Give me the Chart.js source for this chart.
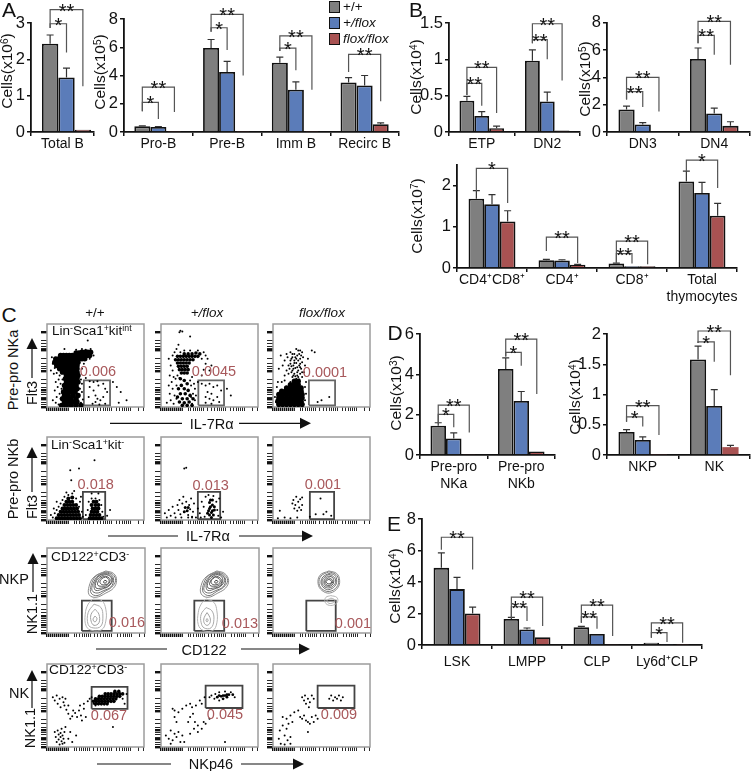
<!DOCTYPE html>
<html>
<head>
<meta charset="utf-8">
<script src="https://cdn.jsdelivr.net/npm/chart.js@4/dist/chart.umd.min.js"></script>
<style>
  html, body { margin: 0; padding: 0; background: #fff; }
  #page { position: relative; width: 751px; height: 771px; overflow: hidden; font-family: "Liberation Sans", Arial, sans-serif; color: #111; }
  #page canvas { position: absolute; }
  #arrows { position: absolute; left: 0; top: 0; }
  .t { position: absolute; white-space: nowrap; line-height: 1; transform: translate(-50%, -50%); }
  .l { transform: translate(0, -50%); }
  .r { transform: translate(-50%, -50%) rotate(-90deg); }
  .t sup { font-size: 0.65em; line-height: 0; vertical-align: 0.45em; }
  .val { color: #a8585b; font-size: 14.5px; }
  .sw { position: absolute; width: 9px; height: 10px; border: 1.2px solid #111; }
</style>
</head>
<body>
<div id="page"></div>
<script>
const seriesNames = ['+/+', '+/flox', 'flox/flox'];
const seriesColors = ['#7f7f7f', '#5b7cb9', '#a85252'];

// A
const totalBCats = ['Total B'];
const totalBWt = [2.43], totalBHet = [1.5], totalBKo = [0.06];
const totalBWtHi = [2.67], totalBHetHi = [1.76], totalBKoHi = [null];

const bSubsetCats = ['Pro-B', 'Pre-B', 'Imm B', 'Recirc B'];
const bSubsetWt = [0.4, 5.95, 4.9, 3.5], bSubsetHet = [0.35, 4.25, 3.0, 3.3], bSubsetKo = [0.02, 0.02, 0.02, 0.55];
const bSubsetWtHi = [0.44, 6.55, 5.3, 3.85], bSubsetHetHi = [0.39, 5.0, 3.55, 4.0], bSubsetKoHi = [null, null, null, 0.65];

// B
const etpCats = ['ETP', 'DN2'];
const etpWt = [0.43, 0.98], etpHet = [0.22, 0.42], etpKo = [0.05, 0.02];
const etpWtHi = [0.49, 1.13], etpHetHi = [0.28, 0.55], etpKoHi = [0.08, null];

const dnCats = ['DN3', 'DN4'];
const dnWt = [1.65, 5.35], dnHet = [0.55, 1.35], dnKo = [0.05, 0.45];
const dnWtHi = [1.9, 6.15], dnHetHi = [0.68, 1.75], dnKoHi = [null, 0.75];

const thyCats = ['CD4⁺CD8⁺', 'CD4⁺', 'CD8⁺', ['Total', 'thymocytes']];
const thyWt = [1.68, 0.19, 0.11, 2.1], thyHet = [1.55, 0.18, 0.04, 1.82], thyKo = [1.13, 0.08, 0.04, 1.27];
const thyWtHi = [1.88, 0.21, 0.12, 2.35], thyHetHi = [1.78, 0.2, null, 2.08], thyKoHi = [1.39, 0.09, null, 1.57];

// D
const preProCats = [['Pre-pro', 'NKa'], ['Pre-pro', 'NKb']];
const preProWt = [1.45, 4.27], preProHet = [0.82, 2.68], preProKo = [0.05, 0.17];
const preProWtHi = [1.6, 4.82], preProHetHi = [1.1, 3.15], preProKoHi = [null, null];

const nkCats = ['NKP', 'NK'];
const nkWt = [0.38, 1.58], nkHet = [0.25, 0.81], nkKo = [0.01, 0.13];
const nkWtHi = [0.42, 1.8], nkHetHi = [0.3, 1.08], nkKoHi = [null, 0.16];

// E
const lskCats = ['LSK', 'LMPP', 'CLP', 'Ly6d⁺CLP'];
const lskWt = [4.9, 1.65, 1.12, 0.15], lskHet = [3.55, 0.98, 0.7, 0.07], lskKo = [2.0, 0.5, 0.03, 0.01];
const lskWtHi = [5.85, 1.75, 1.18, null], lskHetHi = [4.3, 1.08, null, null], lskKoHi = [2.4, null, null, null];

// significance brackets: category, from bar, to bar, left foot, top, right foot, stars
const totalBBrackets = [[0, 0, 2, 2.86, 3.37, 1.26, '**'], [0, 0, 1, 2.86, 2.98, 2.19, '*']];
const bSubsetBrackets = [
  [0, 0, 2, 1.47, 3.17, 1.42, '**'], [0, 0, 1, 1.47, 2.1, 0.92, '*'],
  [1, 0, 2, 7.1, 8.33, 4.0, '**'], [1, 0, 1, 7.1, 7.38, 5.8, '*'],
  [2, 0, 2, 5.73, 6.8, 3.0, '**'], [2, 0, 1, 5.73, 5.94, 4.38, '*'],
  [3, 0, 2, 4.24, 5.49, 2.18, '**']
];
const etpBrackets = [
  [0, 0, 2, 0.51, 0.89, 0.26, '**'], [0, 0, 1, 0.51, 0.67, 0.36, '**'],
  [1, 0, 2, 1.22, 1.49, 0.71, '**'], [1, 0, 1, 1.22, 1.27, 1.0, '**']
];
const dnBrackets = [
  [0, 0, 2, 2.37, 4.0, 1.5, '**'], [0, 0, 1, 2.37, 2.95, 1.83, '**'],
  [1, 0, 2, 6.5, 8.1, 4.93, '**'], [1, 0, 1, 6.5, 7.07, 5.66, '**']
];
const thyBrackets = [
  [0, 0, 2, 1.86, 2.42, 1.58, '*'], [1, 0, 2, 0.41, 0.75, 0.12, '**'],
  [2, 0, 2, 0.13, 0.65, 0.09, '**'], [2, 0, 1, 0.13, 0.35, 0.11, '**'],
  [3, 0, 2, 2.34, 2.62, 1.94, '*']
];
const preProBrackets = [
  [0, 0, 2, 1.58, 2.47, 1.12, '**'], [0, 0, 1, 1.58, 2.01, 1.38, '*'],
  [1, 0, 2, 4.88, 5.75, 3.03, '**'], [1, 0, 1, 4.88, 5.09, 4.42, '*']
];
const nkBrackets = [
  [0, 0, 2, 0.55, 0.815, 0.33, '**'], [0, 0, 1, 0.55, 0.63, 0.47, '*'],
  [1, 0, 2, 1.85, 2.05, 1.32, '**'], [1, 0, 1, 1.85, 1.87, 1.54, '*']
];
const lskBrackets = [
  [0, 0, 2, 6.05, 6.84, 4.79, '**'],
  [1, 0, 2, 1.73, 3.04, 1.2, '**'], [1, 0, 1, 1.73, 2.43, 1.52, '**'],
  [2, 0, 2, 1.41, 2.53, 0.57, '**'], [2, 0, 1, 1.41, 1.79, 1.03, '**'],
  [3, 0, 2, 0.46, 1.41, 0.15, '**'], [3, 0, 1, 0.46, 0.78, 0.19, '*']
];

// flow plots, flat x,y pairs on a 0-100 plot scale
const flowTicksX = [0,2,4,6,8,10,12,14,16,18,20,22,28,30,33,36,38,40,42,44,48,52,55,58,60,62,64,66,72,75,78,80,82,84,86,94,99];
const flowTicksY = [0,3,6,9,12,15,17,20,24,28,33,43,46,49,53,58,68,71,73,76,80,90];
const flowMajorY = [0,9,20,43,68,90];

const r1c1Dense = [
  30,65,33,65,36,66,39,66,42,66,45,66,
  14,62,17,62,20,62,23,62,26,62,29,62,32,62,35,62,38,62,41,62,44,62,
  9,58,12,58,15,58,18,58,21,58,24,58,27,58,30,58,33,58,36,58,39,58,
  8,54,11,54,14,54,17,54,20,54,23,54,26,54,29,54,32,54,
  10,50,13,50,16,50,19,50,22,50,25,50,28,50,31,50,
  13,46,16,46,19,46,22,46,25,46,28,46,31,46,
  16,42,19,42,22,42,25,42,28,42,31,42,
  20,38,23,38,26,38,29,38,32,38,
  19,34,22,34,25,34,28,34,31,34,
  20,30,24,30,28,30,32,30,
  18,26,22,26,26,26,30,26,
  19,22,23,22,27,22,31,22,
  17,18,21,18,25,18,29,18,
  18,14,22,14,27,14,32,14,
  16,10,21,10,25,10,30,10,
  18,6,23,6,27,6,31,6,
  15,2,20,2,25,2,30,2,35,2
];
const r1c1Sparse = [5,60,6,52,8,47,4,44,7,40,10,41,13,38,12,33,9,30,14,28,11,24,15,22,8,20,13,16,10,12,14,10,6,8,9,5,12,3,16,33,15,42,33,38,35,33,36,28,34,22,36,18,33,13,37,9,35,5,34,2,45,70,40,69,36,70,30,69,48,62,44,58,38,52,36,46,40,35,44,31,48,30,52,31,44,24,48,20,53,26,58,28,60,22,50,14,52,10,55,8,50,6,47,4,54,3,58,12,62,18,43,12,68,30,72,24,76,18,82,8,74,5,42,80,18,70,60,4];
const r1c2Dense = [
  24,64,28,64,32,64,36,65,40,64,
  17,61,20,61,23,61,26,61,29,61,32,61,35,61,38,61,
  15,57,18,57,21,57,24,57,27,57,30,57,33,57,
  17,53,20,53,23,53,26,53,29,53,
  18,49,21,49,24,49,27,49,
  19,45,22,45,25,45,28,45,
  21,41,24,41,27,41,
  20,34,24,32,27,28,21,26,18,22,24,22,28,20,20,16,25,16,30,14,17,12,22,10,27,10,19,6,24,5,29,6,33,10,22,2,27,2,32,2
];
const r1c2Sparse = [8,58,10,50,12,62,14,66,12,44,9,38,13,36,11,30,15,34,8,26,12,22,16,26,9,16,14,14,16,10,10,8,13,4,6,5,17,38,19,35,32,36,30,32,34,28,31,26,35,22,33,16,31,12,35,8,32,4,36,14,38,30,42,38,44,45,46,52,42,58,46,62,44,66,38,68,24,68,30,68,20,66,16,70,48,58,52,50,50,44,42,28,46,26,50,28,54,24,58,26,62,20,48,18,52,16,46,12,50,10,54,8,58,12,52,4,46,5,60,6,68,22,72,14,19,90,20,92,22,91,30,85,18,75];
const r1c3Dense = [
  6,3,10,3,14,3,18,3,22,3,26,3,30,3,
  5,7,9,7,13,7,17,7,21,7,25,7,29,7,
  6,11,10,11,14,11,18,11,22,11,26,11,30,11,
  6,15,10,15,14,15,18,15,22,15,26,15,30,15,
  9,19,13,19,17,19,21,19,25,19,29,19,
  14,23,18,23,22,23,26,23,29,23,
  18,27,22,27,26,27,
  22,31,26,31
];
const r1c3Sparse = [20,60,22,56,25,62,28,58,18,52,21,50,24,53,27,50,30,54,17,46,20,44,23,47,26,44,29,46,22,40,25,38,28,40,20,36,24,34,27,33,30,36,22,64,26,68,30,66,24,70,18,66,15,60,12,56,8,62,10,50,6,46,14,44,16,40,12,38,18,30,31,60,33,50,32,42,34,30,33,24,34,16,33,8,4,24,2,12,3,6,5,30,9,30,12,32,40,68,43,66,36,58,50,8,58,12,46,6,19,58,23,60,26,56,29,62,21,46,25,42,28,48,19,42,23,37,20,64,24,58,27,64,19,49,22,53,25,48,28,52,30,42,21,38,26,36,18,56,16,50,14,64,28,68];

const r2c1Dense = [
  10,2,13,2,16,2,19,2,22,2,25,2,28,2,31,2,34,2,
  12,6,15,6,18,6,21,6,24,6,27,6,30,6,33,6,
  14,10,17,10,20,10,23,10,26,10,29,10,32,10,
  16,14,19,14,22,14,25,14,28,14,31,14,
  18,18,21,18,24,18,27,18,30,18,
  20,22,23,22,26,22,
  22,26,26,27,
  44,2,47,2,50,2,53,2,56,2,
  45,6,48,6,51,6,54,6,
  46,10,49,10,52,10,
  47,14,50,14,53,14,
  46,18,50,18,53,18,
  48,22,51,22
];
const r2c1Sparse = [6,3,8,8,10,12,12,16,14,20,16,24,18,28,22,30,26,32,30,26,34,22,33,16,36,10,37,4,35,28,28,35,20,33,10,22,7,14,4,6,40,6,42,12,43,22,46,26,50,26,54,24,56,18,57,10,58,4,46,32,53,32,33,62,24,60,49,72,25,48,62,5,65,12];
const r2c2Dense = [50,6,54,6,49,11,53,11,51,16,55,16,50,21,53,24,52,3,48,8,52,9,55,12,50,14,53,18,51,24,25,15,27,11,24,10,28,15];
const r2c2Sparse = [4,8,6,3,8,12,10,5,12,16,14,8,15,3,17,18,18,12,19,24,20,7,21,3,22,20,23,28,24,10,26,22,28,6,29,18,30,13,31,26,32,4,33,10,34,20,36,3,38,14,40,8,42,22,44,16,45,4,46,28,49,30,54,29,57,22,58,12,59,5,60,26,62,3,64,10,24,62,26,63,32,3,28,3,41,3];
const r2c3Dense = [];
const r2c3Sparse = [7,11,20,20,21,24,22,14,23,18,24,28,25,11,26,22,27,15,28,25,29,12,30,18,30,27,44,7,49,26,52,7,55,10,60,5,5,2,12,3,18,2,25,3,38,4];

const r4c1Dense = [
  50,52,53,52,56,52,59,52,62,52,
  48,55,51,55,54,55,57,55,60,55,63,55,66,55,69,55,
  50,58,53,58,56,58,59,58,62,58,65,58,68,58,71,58,
  54,61,57,61,60,61,63,61,66,61,69,61,72,61,75,61,
  60,64,63,64,66,64,69,64,72,64,75,64,78,64,
  70,67,74,67
];
const r4c1Sparse = [6,60,8,56,10,62,11,52,13,58,14,48,16,60,17,54,18,50,19,58,20,45,22,50,22,40,24,34,26,37,27,44,29,41,31,36,33,44,35,38,36,32,38,46,40,36,34,50,38,52,42,55,44,58,46,60,48,52,50,50,78,58,82,64,80,52,8,18,9,12,10,6,11,20,12,15,12,9,13,3,14,17,14,12,15,7,15,22,16,14,16,4,17,10,18,18,18,5,19,24,22,10,24,18,26,6,68,24,30,14];
const r4c2Dense = [58,60,62,61,66,62,70,63,74,63,64,58,68,60,60,62,64,62,68,63];
const r4c2Sparse = [52,62,55,58,56,64,60,66,60,56,66,67,72,66,76,60,50,60,45,60,40,56,42,52,36,50,30,52,32,48,26,50,22,46,14,44,12,46,18,42,33,40,30,36,28,30,35,30,38,26,34,22,42,22,44,30,46,28,50,34,16,30,14,36,5,14,8,10,10,20,12,8,14,16,16,12,18,18,20,6,22,14,24,6,10,4,66,6,30,16,38,18];
const r4c3Dense = [];
const r4c3Sparse = [58,58,60,62,62,56,64,60,66,58,68,62,70,56,72,60,30,60,32,56,33,62,34,52,36,58,37,48,38,54,40,62,42,58,10,36,14,34,18,38,22,42,26,44,28,36,30,34,32,38,34,32,36,30,38,28,40,36,44,38,46,34,42,30,6,10,8,4,7,20,10,26,12,14,14,22,15,8,16,28,18,12,18,4,20,30,12,3,36,18];

// contour rings of the NKP row
const r3c1Upper = [
  [60,73,68,70,71,62,68,53,60,47,50,42,43,45,43,55,48,66],
  [60,72,67,69,70,62,66,54,59,49,51,44,45,47,45,56,50,67],
  [60,71,66,68,68,62,65,54,58,50,51,47,46,50,47,58,52,67],
  [60,70,65,67,67,62,63,55,57,52,50,50,48,54,49,60,53,67],
  [60,69,65,66,66,61,62,55,56,53,50,53,50,60,54,66],
  [60,67,64,64,64,60,61,56,57,55,52,56,52,60,55,65],
  [60,66,63,63,63,59,60,57,56,57,54,60,56,64],
  [59,62,61,61,60,59,58,59,58,61]
];
const r3c1Lower = [
  [47,40,56,38,60,28,60,14,56,4,46,3,40,8,39,22,42,34],
  [48,34,55,30,57,20,55,8,47,6,42,10,42,24],
  [49,28,53,22,53,12,48,9,45,14,45,22],
  [49,20,51,17,49,13,47,16]
];
const r3c2Upper = [
  [57,73,65,70,69,62,66,53,58,47,48,42,41,46,41,56,46,66],
  [57,72,64,69,68,62,64,54,57,49,49,44,43,48,43,56,48,67],
  [57,71,63,68,66,62,63,54,56,50,49,47,44,50,45,58,50,67],
  [57,70,63,67,65,62,61,55,55,52,48,50,46,54,47,60,51,67],
  [57,69,62,66,63,61,60,55,54,53,48,53,48,60,52,66],
  [57,67,61,64,62,60,59,56,55,55,50,56,50,60,53,65],
  [56,66,60,63,60,59,57,57,53,57,51,60,53,64],
  [56,62,58,61,57,59,55,59,55,61]
];
const r3c2Lower = [
  [46,40,54,36,57,26,57,12,53,3,43,3,38,10,38,24,41,34],
  [46,30,52,26,54,16,51,6,44,6,41,12,41,22],
  [47,24,50,18,50,12,47,9,44,12,44,18],
  [47,17,48,15,47,13,46,15]
];
const r3c3Upper = [
  [57,73,65,70,68,62,66,53,58,47,50,50,46,58,48,68],
  [57,72,64,69,67,62,65,54,58,49,51,51,47,58,49,67],
  [57,70,63,68,65,61,63,55,57,51,52,53,49,59,51,66],
  [57,69,62,66,64,61,62,56,57,53,52,55,50,60,52,65],
  [57,67,61,65,62,60,60,56,57,55,53,56,52,60,53,64],
  [57,65,60,63,61,60,59,57,57,56,54,57,53,60,54,63],
  [57,63,59,62,60,60,58,58,56,58,54,60,55,62]
];
const r3c3Lower = [
  [59,44,65,42,66,37,62,33,56,33,53,37,54,42],
  [59,41,62,40,63,37,60,35,57,35,55,38]
];

// gates: x0, x1, y0, y1 on the same scale
const gateR1 = [[38,65,2,32], [38.5,65,2,32], [37,64,2,32]];
const gateR2 = [[37,60,1,34], [38,61,1,34], [38,63,1,34]];
const gateR3 = [[35.6,66,2.4,38], [34,64.5,2.4,38], [34,64,2.4,38]];
const gateR4 = [[46,83,46,72.5], [46,84,47,74], [46,84,47,74]];

const page = document.getElementById('page');

function pairs(flat) {
  const out = [];
  for (let i = 0; i < flat.length; i += 2) out.push({ x: flat[i], y: flat[i + 1] });
  return out;
}

// whiskers on top of the bars and the bracket lines above them
function barMarks(hi, brackets, shift) {
  return {
    id: 'barMarks',
    afterDatasetsUpdate(chart) {
      if (!shift) return;
      hi.forEach((list, s) => chart.getDatasetMeta(s).data.forEach(b => { b.x += shift; }));
    },
    afterDatasetsDraw(chart) {
      const ctx = chart.ctx, y = chart.scales.y;
      ctx.save();
      ctx.strokeStyle = '#333';
      ctx.lineWidth = 1.2;
      hi.forEach((list, s) => {
        const bars = chart.getDatasetMeta(s).data;
        list.forEach((v, i) => {
          if (v === null) return;
          const px = bars[i].x, top = y.getPixelForValue(v);
          ctx.beginPath();
          ctx.moveTo(px, bars[i].y);
          ctx.lineTo(px, top);
          ctx.moveTo(px - 3.5, top);
          ctx.lineTo(px + 3.5, top);
          ctx.stroke();
        });
      });
      ctx.strokeStyle = '#555';
      ctx.lineWidth = 1.2;
      ctx.fillStyle = '#111';
      ctx.font = '20px "Liberation Sans"';
      ctx.textAlign = 'center';
      ctx.textBaseline = 'alphabetic';
      brackets.forEach(b => {
        const x0 = chart.getDatasetMeta(b[1]).data[b[0]].x;
        const x1 = chart.getDatasetMeta(b[2]).data[b[0]].x;
        const top = y.getPixelForValue(b[4]);
        ctx.beginPath();
        ctx.moveTo(x0, y.getPixelForValue(b[3]));
        ctx.lineTo(x0, top);
        ctx.lineTo(x1, top);
        ctx.lineTo(x1, y.getPixelForValue(b[5]));
        ctx.stroke();
        ctx.fillText(b[6], (x0 + x1) / 2, top + 8);
      });
      ctx.restore();
    }
  };
}

function barChart(box, cats, wt, het, ko, hi, brackets, yMax, step, share) {
  const pad = 40, topPad = Math.min(box.top, 24), below = 44;
  const canvas = document.createElement('canvas');
  const w = box.right - box.left + pad + 3, h = box.base - box.top + topPad + below;
  canvas.width = w;
  canvas.height = h;
  canvas.style.left = (box.left - pad) + 'px';
  canvas.style.top = (box.top - topPad) + 'px';
  page.appendChild(canvas);
  new Chart(canvas, {
    type: 'bar',
    data: {
      labels: cats,
      datasets: [wt, het, ko].map((d, i) => ({
        label: seriesNames[i],
        data: d,
        backgroundColor: seriesColors[i],
        borderColor: '#111',
        borderWidth: (i === 2 && box.redNoEdge) ? 0 : 1.8,
        categoryPercentage: share,
        barPercentage: 1
      }))
    },
    options: {
      responsive: false,
      animation: false,
      devicePixelRatio: 1,
      layout: { padding: { top: topPad, right: 3, left: 0, bottom: 0 } },
      plugins: { legend: { display: false }, tooltip: { enabled: false } },
      scales: {
        x: {
          afterFit: s => { s.height = below; },
          border: { color: '#111', width: 1.8 },
          grid: { drawOnChartArea: false, color: '#111', lineWidth: 1.5, tickLength: 4 },
          ticks: { color: '#111', font: { size: 14, family: 'Liberation Sans' }, padding: box.labelGap || 0, autoSkip: false, maxRotation: 0 }
        },
        y: {
          min: 0,
          max: yMax,
          afterFit: s => { s.width = pad; },
          border: { color: '#111', width: 1.8 },
          grid: { drawOnChartArea: false, color: '#111', lineWidth: 1.5, tickLength: 4 },
          ticks: { color: '#111', stepSize: step, font: { size: 16.5, family: 'Liberation Sans' }, padding: 2, callback: v => String(v) }
        }
      }
    },
    plugins: [barMarks(hi, brackets, box.shift)]
  });
}

barChart({ left: 30.7, right: 94, top: 23, base: 132, shift: 4 }, totalBCats, totalBWt, totalBHet, totalBKo, [totalBWtHi, totalBHetHi, totalBKoHi], totalBBrackets, 3, 1, 0.78);
barChart({ left: 124, right: 399, top: 19, base: 132 }, bSubsetCats, bSubsetWt, bSubsetHet, bSubsetKo, [bSubsetWtHi, bSubsetHetHi, bSubsetKoHi], bSubsetBrackets, 8, 2, 0.7);
barChart({ left: 449.3, right: 581, top: 23, base: 132 }, etpCats, etpWt, etpHet, etpKo, [etpWtHi, etpHetHi, etpKoHi], etpBrackets, 1.5, 0.5, 0.68);
barChart({ left: 607, right: 750, top: 22.7, base: 132 }, dnCats, dnWt, dnHet, dnKo, [dnWtHi, dnHetHi, dnKoHi], dnBrackets, 8, 2, 0.68);
barChart({ left: 457, right: 737, top: 165, base: 268.7 }, thyCats, thyWt, thyHet, thyKo, [thyWtHi, thyHetHi, thyKoHi], thyBrackets, 2.5, 0.5, 0.67);
barChart({ left: 420, right: 555, top: 334, base: 455 }, preProCats, preProWt, preProHet, preProKo, [preProWtHi, preProHetHi, preProKoHi], preProBrackets, 6, 1, 0.69);
barChart({ left: 606.7, right: 750, top: 334, base: 455, redNoEdge: true }, nkCats, nkWt, nkHet, nkKo, [nkWtHi, nkHetHi, nkKoHi], nkBrackets, 2, 0.5, 0.68);
barChart({ left: 421.7, right: 702, top: 519.3, base: 645.7, labelGap: 5 }, lskCats, lskWt, lskHet, lskKo, [lskWtHi, lskHetHi, lskKoHi], lskBrackets, 8, 2, 0.67);

const frame = {
  id: 'frame',
  beforeDatasetsDraw(chart) {
    const a = chart.chartArea, ctx = chart.ctx;
    ctx.save();
    ctx.strokeStyle = '#9c9c9c';
    ctx.lineWidth = 1.5;
    ctx.strokeRect(a.left, a.top, a.right - a.left, a.bottom - a.top);
    ctx.restore();
  }
};

function flowChart(left, top, dense, denseR, sparse, gate, gateColor, rings) {
  const mx = 8, my = 2, below = 8, w = 98, h = 85;
  const canvas = document.createElement('canvas');
  canvas.width = w + mx + 3;
  canvas.height = h + my + below;
  canvas.style.left = (left - mx) + 'px';
  canvas.style.top = (top - my) + 'px';
  page.appendChild(canvas);
  const datasets = [];
  (rings || []).forEach(r => {
    r.sets.forEach((ring, i) => datasets.push({
      type: 'scatter', data: pairs(ring.concat(ring.slice(0, 2))), showLine: true, tension: 0.4,
      borderColor: r.colors[i], borderWidth: 1, pointRadius: 0, fill: false
    }));
  });
  datasets.push({ data: pairs(dense), pointRadius: denseR, backgroundColor: '#000', borderWidth: 0 });
  datasets.push({ data: pairs(sparse), pointRadius: 1, backgroundColor: '#000', borderWidth: 0 });
  datasets.push({
    data: [{ x: gate[0], y: gate[2] }, { x: gate[1], y: gate[2] }, { x: gate[1], y: gate[3] }, { x: gate[0], y: gate[3] }, { x: gate[0], y: gate[2] }],
    showLine: true, borderColor: gateColor, borderWidth: 1.8, pointRadius: 0
  });
  new Chart(canvas, {
    type: 'scatter',
    data: { datasets },
    options: {
      responsive: false,
      animation: false,
      devicePixelRatio: 1,
      layout: { padding: { top: my, right: 3, left: 0, bottom: 0 } },
      plugins: { legend: { display: false }, tooltip: { enabled: false } },
      scales: {
        x: {
          min: 0, max: 100,
          afterBuildTicks: s => { s.ticks = flowTicksX.map(v => ({ value: v })); },
          afterFit: s => { s.height = below; },
          border: { display: false },
          grid: { drawOnChartArea: false, color: '#111', lineWidth: c => (c.tick && c.tick.value < 22 ? 1.4 : 0.9), tickLength: 4 },
          ticks: { display: false }
        },
        y: {
          min: 0, max: 100,
          afterBuildTicks: s => { s.ticks = flowTicksY.map(v => ({ value: v })); },
          afterFit: s => { s.width = mx; },
          border: { display: false },
          grid: { drawOnChartArea: false, color: '#111', lineWidth: c => (c.tick && flowMajorY.includes(c.tick.value) ? 2.4 : 0.9), tickLength: 6 },
          ticks: { display: false }
        }
      }
    },
    plugins: [frame]
  });
}

const colX = [46.7, 160.7, 273];
const rowY = [321.7, 435, 547.7, 661.7];
const upperColors = ['#8a8a8a', '#777', '#6c6c6c', '#666', '#5c5c5c', '#555', '#4c4c4c', '#444'];
const lowerColors = ['#b5b5b5', '#aaa', '#a0a0a0', '#999'];

flowChart(colX[0], rowY[0], r1c1Dense, 2.7, r1c1Sparse, gateR1[0], '#666');
flowChart(colX[1], rowY[0], r1c2Dense, 1.8, r1c2Sparse, gateR1[1], '#666');
flowChart(colX[2], rowY[0], r1c3Dense, 2.7, r1c3Sparse, gateR1[2], '#666');
flowChart(colX[0], rowY[1], r2c1Dense, 2, r2c1Sparse, gateR2[0], '#444');
flowChart(colX[1], rowY[1], r2c2Dense, 1.5, r2c2Sparse, gateR2[1], '#444');
flowChart(colX[2], rowY[1], r2c3Dense, 1, r2c3Sparse, gateR2[2], '#444');
flowChart(colX[0], rowY[2], [], 1, [], gateR3[0], '#444', [{ sets: r3c1Upper, colors: upperColors }, { sets: r3c1Lower, colors: lowerColors }]);
flowChart(colX[1], rowY[2], [], 1, [], gateR3[1], '#444', [{ sets: r3c2Upper, colors: upperColors }, { sets: r3c2Lower, colors: lowerColors }]);
flowChart(colX[2], rowY[2], [], 1, [], gateR3[2], '#444', [{ sets: r3c3Upper, colors: upperColors }, { sets: r3c3Lower, colors: lowerColors }]);
flowChart(colX[0], rowY[3], r4c1Dense, 1.8, r4c1Sparse, gateR4[0], '#444');
flowChart(colX[1], rowY[3], r4c2Dense, 1.4, r4c2Sparse, gateR4[1], '#444');
flowChart(colX[2], rowY[3], r4c3Dense, 1, r4c3Sparse, gateR4[2], '#444');

// text
function text(html, x, y, size, cls, extra) {
  const d = document.createElement('div');
  d.className = 't ' + (cls || '');
  d.innerHTML = html;
  d.style.left = x + 'px';
  d.style.top = y + 'px';
  if (size) d.style.fontSize = size + 'px';
  if (extra) d.style.cssText += extra;
  page.appendChild(d);
}

text('A', 9, 9, 21);
text('B', 416, 9, 21);
text('C', 9, 314, 21);
text('D', 395, 332, 21);
text('E', 394, 523, 21);

text('Cells(x10<sup>6</sup>)', 7, 71, 15.5, 'r');
text('Cells(x10<sup>5</sup>)', 100, 72, 15.5, 'r');
text('Cells(x10<sup>4</sup>)', 416, 77, 15.5, 'r');
text('Cells(x10<sup>5</sup>)', 585, 79, 15.5, 'r');
text('Cells(x10<sup>7</sup>)', 417, 216, 15.5, 'r');
text('Cells(x10<sup>3</sup>)', 396, 393, 15.5, 'r');
text('Cells(x10<sup>4</sup>)', 575, 397, 15.5, 'r');
text('Cells(x10<sup>4</sup>)', 395, 586, 15.5, 'r');

// legend
[[0, '+/+', ''], [1, '+/flox', 'font-style:italic'], [2, 'flox/flox', 'font-style:italic']].forEach(e => {
  const s = document.createElement('div');
  s.className = 'sw';
  s.style.left = '329px';
  s.style.top = (e[0] * 16 + 0.5) + 'px';
  s.style.background = seriesColors[e[0]];
  page.appendChild(s);
  text(e[1], 343, e[0] * 16 + 7, 13.5, 'l', e[2]);
});

text('+/+', 95, 312.5, 13.5);
text('+/flox', 207, 312.5, 13.5, '', 'font-style:italic');
text('flox/flox', 322, 312.5, 13.5, '', 'font-style:italic');

text('Lin<sup>-</sup>Sca1<sup>+</sup>kit<sup>int</sup>', 52, 331, 13.5, 'l');
text('Lin<sup>-</sup>Sca1<sup>+</sup>kit<sup>-</sup>', 51, 445, 13.5, 'l');
text('CD122<sup>+</sup>CD3<sup>-</sup>', 51, 557, 13.7, 'l');
text('CD122<sup>+</sup>CD3<sup>-</sup>', 49, 670, 13.7, 'l');

[['0.006', 98, 371], ['0.0045', 214, 371], ['0.0001', 325, 372],
 ['0.018', 95.7, 484], ['0.013', 210.7, 485], ['0.001', 323, 484],
 ['0.016', 127, 622], ['0.013', 240, 623], ['0.001', 353, 623],
 ['0.067', 109, 715], ['0.045', 225, 714], ['0.009', 339, 714]].forEach(v => text(v[0], v[1], v[2], 0, 'val'));

text('IL-7Rα', 211.7, 424, 14.5);
text('IL-7Rα', 208, 536, 14.5);
text('CD122', 204, 649.5, 14.5);
text('NKp46', 211, 764, 14.5);

text('Pre-pro NKa', 13, 370, 14.5, 'r');
text('Flt3', 32, 393, 14.5, 'r');
text('Pre-pro NKb', 13, 479, 14.5, 'r');
text('Flt3', 32, 507, 14.5, 'r');
text('NKP', 14, 579, 14.5);
text('NK1.1', 32, 614, 14.5, 'r');
text('NK', 19, 693, 14.5);
text('NK1.1', 30, 728, 14.5, 'r');

// arrows next to the flow axis names
const svgNS = 'http://www.w3.org/2000/svg';
const svg = document.createElementNS(svgNS, 'svg');
svg.setAttribute('id', 'arrows');
svg.setAttribute('width', 751);
svg.setAttribute('height', 771);
page.appendChild(svg);

function segment(x1, y1, x2, y2) {
  const l = document.createElementNS(svgNS, 'line');
  l.setAttribute('x1', x1); l.setAttribute('y1', y1); l.setAttribute('x2', x2); l.setAttribute('y2', y2);
  l.setAttribute('stroke', '#111');
  l.setAttribute('stroke-width', 1.2);
  svg.appendChild(l);
}
function head(points) {
  const p = document.createElementNS(svgNS, 'polygon');
  p.setAttribute('points', points);
  p.setAttribute('fill', '#111');
  svg.appendChild(p);
}
function hArrow(y, a, b, c, tip) {
  segment(a, y, b, y);
  segment(c, y, tip - 11, y);
  head((tip - 11) + ',' + (y - 5.5) + ' ' + tip + ',' + y + ' ' + (tip - 11) + ',' + (y + 5.5));
}
function vArrow(x, tip, end) {
  segment(x, tip + 10, x, end);
  head((x - 5.5) + ',' + (tip + 11) + ' ' + x + ',' + tip + ' ' + (x + 5.5) + ',' + (tip + 11));
}
hArrow(423.3, 110, 182, 239, 311);
hArrow(536, 108, 178, 239, 313);
hArrow(649, 96, 167, 241, 310);
hArrow(764, 97, 171, 241, 304);
vArrow(32, 338, 378);
vArrow(32, 447, 492);
vArrow(33, 553, 592);
vArrow(32, 670, 708);
</script>
</body>
</html>
